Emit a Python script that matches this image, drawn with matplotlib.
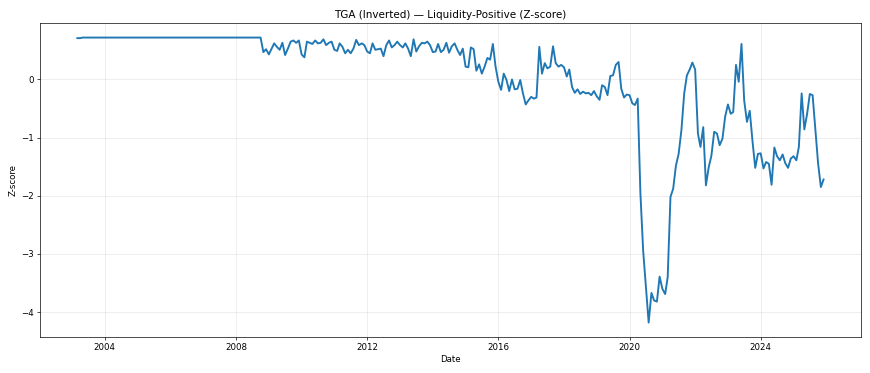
import numpy as np
import pandas as pd
import matplotlib
matplotlib.use("Agg")
import matplotlib.pyplot as plt

# Monthly z-score of the inverted TGA
start_month = "2003-03-01"

# Mar 2003 - Oct 2008: nearly flat
z_flat = [
    0.71, 0.71, 0.72, 0.72, 0.72, 0.72, 0.72, 0.72, 0.72, 0.72, 0.72, 0.72,
    0.72, 0.72, 0.72, 0.72, 0.72, 0.72, 0.72, 0.72, 0.72, 0.72, 0.72, 0.72,
    0.72, 0.72, 0.72, 0.72, 0.72, 0.72, 0.72, 0.72, 0.72, 0.72, 0.72, 0.72,
    0.72, 0.72, 0.72, 0.72, 0.72, 0.72, 0.72, 0.72, 0.72, 0.72, 0.72, 0.72,
    0.72, 0.72, 0.72, 0.72, 0.72, 0.72, 0.72, 0.72, 0.72, 0.72, 0.72, 0.72,
    0.72, 0.72, 0.72, 0.72, 0.72, 0.72, 0.72, 0.72,
]

# Nov 2008 - Dec 2014
z_2008 = [
    0.47, 0.52, 0.43, 0.53, 0.62, 0.56, 0.51, 0.63, 0.42, 0.53,
    0.65, 0.67, 0.63, 0.67, 0.43, 0.38, 0.65, 0.63, 0.61, 0.67,
    0.62, 0.63, 0.69, 0.59, 0.63, 0.65, 0.51, 0.49, 0.62, 0.56,
    0.45, 0.51, 0.45, 0.53, 0.68, 0.59, 0.62, 0.59, 0.48, 0.45,
    0.62, 0.51, 0.52, 0.53, 0.40, 0.59, 0.67, 0.55, 0.59, 0.65,
    0.59, 0.55, 0.62, 0.53, 0.40, 0.69, 0.48, 0.57, 0.63, 0.62,
    0.65, 0.59, 0.47, 0.48, 0.61, 0.47, 0.51, 0.63, 0.46, 0.57,
    0.62, 0.51, 0.42, 0.53,
]

# Jan 2015 - Apr 2020
z_2015 = [
    0.22, 0.21, 0.55, 0.52, 0.15, 0.26, 0.10, 0.22, 0.37, 0.34,
    0.61, 0.22, -0.04, -0.18, 0.10, -0.01, -0.20, 0.00, -0.17, -0.16,
    -0.01, -0.24, -0.43, -0.36, -0.30, -0.33, -0.31, 0.56, 0.10, 0.28,
    0.19, 0.22, 0.57, 0.28, 0.22, 0.25, 0.21, 0.05, 0.17, -0.13,
    -0.23, -0.17, -0.25, -0.21, -0.24, -0.23, -0.27, -0.20, -0.29, -0.35,
    -0.10, -0.13, -0.27, 0.06, 0.07, 0.25, 0.30, -0.16, -0.31, -0.26,
    -0.27, -0.41, -0.44, -0.33,
]

# May 2020 - Dec 2025
z_2020 = [
    -1.95, -2.95, -3.55, -4.18, -3.67, -3.80, -3.82, -3.39, -3.60, -3.69,
    -3.40, -2.02, -1.88, -1.48, -1.28, -0.87, -0.24, 0.07, 0.17, 0.29,
    0.17, -0.93, -1.16, -0.82, -1.82, -1.51, -1.31, -0.90, -0.93, -1.13,
    -1.02, -0.64, -0.43, -0.59, -0.56, 0.25, -0.04, 0.61, -0.36, -0.73,
    -0.54, -1.05, -1.52, -1.28, -1.27, -1.53, -1.42, -1.45, -1.81, -1.17,
    -1.32, -1.39, -1.29, -1.44, -1.52, -1.36, -1.32, -1.39, -1.16, -0.24,
    -0.86, -0.59, -0.25, -0.27, -0.87, -1.44, -1.85, -1.72,
]

z = np.array(z_flat + z_2008 + z_2015 + z_2020)
dates = pd.date_range(start_month, periods=len(z), freq="MS")

fig, ax = plt.subplots(figsize=(14, 373 / (870 / 14)), dpi=870 / 14)
ax.plot(dates, z, color="#1f77b4", linewidth=2.2)
ax.set_title("TGA (Inverted) \u2014 Liquidity-Positive (Z-score)")
ax.set_xlabel("Date")
ax.set_ylabel("Z-score")
ax.grid(True, alpha=0.3)

fig.subplots_adjust(left=0.046, right=0.9895, bottom=0.097, top=0.9375)
fig.savefig("out.png")
